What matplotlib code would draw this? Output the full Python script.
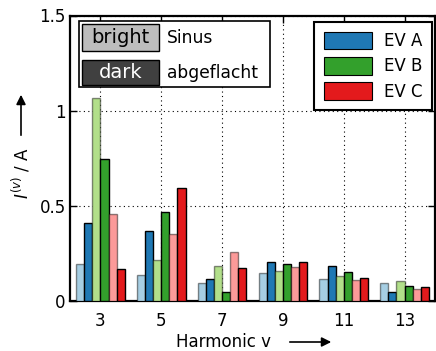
import matplotlib
matplotlib.use("Agg")
import matplotlib.pyplot as plt
from matplotlib.patches import Rectangle, Patch, FancyArrowPatch
from matplotlib.ticker import FormatStrFormatter
import numpy as np

harmonics = ["3", "5", "7", "9", "11", "13"]
series_labels = ["EV A Sinus", "EV A abgeflacht", "EV B Sinus",
                 "EV B abgeflacht", "EV C Sinus", "EV C abgeflacht"]
ev_a_sinus = [0.197, 0.138, 0.093, 0.145, 0.115, 0.094]
ev_a_flat = [0.410, 0.366, 0.114, 0.203, 0.183, 0.049]
ev_b_sinus = [1.066, 0.213, 0.182, 0.157, 0.129, 0.103]
ev_b_flat = [0.747, 0.468, 0.049, 0.194, 0.150, 0.079]
ev_c_sinus = [0.455, 0.351, 0.255, 0.180, 0.110, 0.061]
ev_c_flat = [0.166, 0.593, 0.176, 0.203, 0.119, 0.072]
series = [ev_a_sinus, ev_a_flat, ev_b_sinus, ev_b_flat, ev_c_sinus, ev_c_flat]
colors = ["#a6cee3", "#1f78b4", "#b2df8a", "#33a02c", "#fb9a99", "#e31a1c"]
legend_labels = ["EV A", "EV B", "EV C"]
legend_colors = ["#1f78b4", "#33a02c", "#e31a1c"]

plt.rcParams["font.family"] = ["DejaVu Sans"]
plt.rcParams["font.size"] = 12

fig = plt.figure(figsize=(4.36, 3.51), dpi=100)
ax = fig.add_axes([70 / 436, 1 - 301 / 351, 365 / 436, 285.5 / 351])

x = np.arange(len(harmonics))
w = 0.8 / len(series)
for j, (vals, col) in enumerate(zip(series, colors)):
    edge = (0, 0, 0, 0.45) if j % 2 == 0 else (0, 0, 0, 1)
    ax.bar(x - 0.4 + (j + 0.5) * w, vals, width=w, color=col,
           edgecolor=edge, linewidth=1.0, zorder=3, label=series_labels[j])

ax.set_xlim(-0.5, 5.5)
ax.set_ylim(0, 1.5)
ax.set_xticks(x)
ax.set_xticklabels(harmonics)
ax.set_yticks([0, 0.5, 1, 1.5])
ax.yaxis.set_major_formatter(FormatStrFormatter("%g"))
ax.tick_params(direction="in", top=True, right=True, length=5, width=1,
               labelsize=12)
ax.tick_params(axis="x", pad=8)
ax.tick_params(axis="y", pad=3)
ax.grid(True, linestyle=(0, (1, 3)), color="black", linewidth=0.8, zorder=0)
ax.set_axisbelow(True)
for s in ax.spines.values():
    s.set_linewidth(1.6)

# EV colour legend
handles = [Patch(facecolor=c, edgecolor="black", linewidth=0.8) for c in legend_colors]
leg = ax.legend(handles, legend_labels, loc="upper right", fontsize=12,
                handlelength=2.9, handleheight=1.25, labelspacing=0.42,
                handletextpad=0.75, borderpad=0.55, borderaxespad=0,
                fancybox=False, bbox_to_anchor=(0.992, 0.976))
leg.get_frame().set_edgecolor("black")
leg.get_frame().set_linewidth(1.5)
leg.get_frame().set_alpha(1)

# Shade legend: bright = Sinus, dark = abgeflacht
tr = ax.transAxes
ax.add_patch(Rectangle((0.025, 0.75), 0.523, 0.231, transform=tr, facecolor="white",
                       edgecolor="black", linewidth=1.2, zorder=5))
ax.add_patch(Rectangle((0.033, 0.876), 0.211, 0.094, transform=tr, facecolor="#bdbdbd",
                       edgecolor="black", linewidth=1.0, zorder=6))
ax.add_patch(Rectangle((0.033, 0.757), 0.211, 0.087, transform=tr, facecolor="#404040",
                       edgecolor="black", linewidth=1.0, zorder=6))
ax.text(0.1385, 0.923, "bright", transform=tr, ha="center", va="center",
        fontsize=14, color="black", zorder=7)
ax.text(0.1385, 0.800, "dark", transform=tr, ha="center", va="center",
        fontsize=14, color="white", zorder=7)
ax.text(0.266, 0.921, "Sinus", transform=tr, ha="left", va="center",
        fontsize=12.3, zorder=7)
ax.text(0.266, 0.800, "abgeflacht", transform=tr, ha="left", va="center",
        fontsize=12.3, zorder=7)

# Axis labels with direction arrows
fig.text(223 / 436, 1 - 342 / 351, "Harmonic v", ha="center", va="center", fontsize=12)
fig.add_artist(FancyArrowPatch(
    (287 / 436, 1 - 342 / 351), (334 / 436, 1 - 342 / 351), transform=fig.transFigure,
    arrowstyle="-|>", mutation_scale=14, color="black", linewidth=1.2))
fig.text(21 / 436, 1 - 173 / 351, r"$I^{(v)}$ / A", ha="center", va="center",
         rotation=90, fontsize=12)
fig.add_artist(FancyArrowPatch(
    (21 / 436, 1 - 138 / 351), (21 / 436, 1 - 92 / 351), transform=fig.transFigure,
    arrowstyle="-|>", mutation_scale=14, color="black", linewidth=1.2))

fig.savefig("out.png", dpi=100)
